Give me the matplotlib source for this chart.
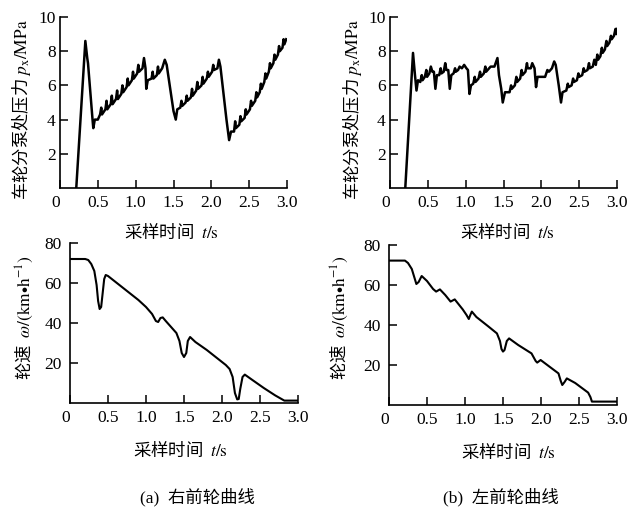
import numpy as np
from matplotlib import pyplot as plt

plt.rcParams['font.family'] = ['Liberation Serif', 'Noto Sans CJK SC']
plt.rcParams['mathtext.fontset'] = 'stix'
plt.rcParams['axes.unicode_minus'] = False

# (a) 右前轮 车轮分泵处压力
t_pa = [0.215, 0.335, 0.36, 0.37, 0.43, 0.44, 0.46, 0.50,
        0.53, 0.545, 0.555, 0.60, 0.615, 0.625, 0.67, 0.685, 0.695,
        0.74, 0.755, 0.765, 0.81, 0.825, 0.835, 0.88, 0.895, 0.905,
        0.95, 0.965, 0.975, 1.02, 1.035, 1.045, 1.09, 1.11, 1.13,
        1.14, 1.16, 1.21, 1.225, 1.235, 1.28, 1.295, 1.305, 1.35,
        1.385, 1.41, 1.50, 1.53, 1.55, 1.59, 1.605, 1.615,
        1.66, 1.675, 1.685, 1.73, 1.745, 1.755, 1.80, 1.815, 1.825,
        1.87, 1.885, 1.895, 1.94, 1.955, 1.965, 2.01, 2.025, 2.035,
        2.08, 2.10, 2.12, 2.20, 2.235, 2.26, 2.30, 2.315, 2.325,
        2.37, 2.385, 2.395, 2.44, 2.455, 2.465, 2.51, 2.525, 2.535,
        2.58, 2.595, 2.605, 2.64, 2.655, 2.665, 2.70, 2.715, 2.725,
        2.76, 2.775, 2.785, 2.82, 2.835, 2.845, 2.88, 2.895, 2.905,
        2.94, 2.955, 2.965, 2.99]
p_a = [0.0, 8.6, 7.6, 7.3, 4.0, 3.5, 4.0, 4.0,
       4.3, 4.7, 4.3, 4.6, 5.1, 4.6, 4.9, 5.4, 4.9,
       5.2, 5.7, 5.2, 5.5, 6.0, 5.6, 5.9, 6.4, 6.0,
       6.3, 6.8, 6.4, 6.7, 7.2, 6.8, 7.0, 7.6, 7.0,
       5.8, 6.3, 6.4, 6.8, 6.4, 6.6, 7.1, 6.7, 7.0,
       7.5, 7.2, 4.5, 4.0, 4.6, 4.7, 5.1, 4.8,
       5.0, 5.4, 5.1, 5.3, 5.8, 5.4, 5.7, 6.2, 5.8,
       6.0, 6.5, 6.1, 6.4, 6.8, 6.5, 6.8, 7.2, 6.9,
       7.0, 7.5, 7.1, 4.0, 2.8, 3.3, 3.3, 3.9, 3.5,
       3.7, 4.2, 3.9, 4.1, 4.6, 4.3, 4.6, 5.1, 4.8,
       5.1, 5.6, 5.3, 5.6, 6.1, 5.8, 6.2, 6.7, 6.4,
       6.8, 7.3, 7.0, 7.3, 7.8, 7.5, 7.8, 8.3, 8.0,
       8.2, 8.7, 8.4, 8.7]

# (b) 左前轮 车轮分泵处压力
t_pb = [0.202, 0.304, 0.33, 0.35, 0.37, 0.40, 0.42, 0.43, 0.46, 0.48,
        0.49, 0.52, 0.54, 0.56, 0.58, 0.60, 0.62, 0.65, 0.67, 0.68,
        0.71, 0.73, 0.745, 0.77, 0.79, 0.81, 0.84, 0.86, 0.87, 0.90,
        0.92, 0.95, 0.98, 1.01, 1.03, 1.05, 1.07, 1.10, 1.12, 1.13,
        1.17, 1.19, 1.20, 1.24, 1.26, 1.27, 1.31, 1.33, 1.38, 1.42,
        1.44, 1.47, 1.49, 1.52, 1.58, 1.60, 1.61, 1.65, 1.67, 1.68,
        1.72, 1.74, 1.75, 1.79, 1.81, 1.82, 1.86, 1.88, 1.91, 1.93,
        1.95, 2.05, 2.08, 2.10, 2.14, 2.17, 2.19, 2.23, 2.26, 2.28,
        2.33, 2.35, 2.36, 2.40, 2.42, 2.43, 2.47, 2.49, 2.50, 2.54,
        2.56, 2.57, 2.61, 2.63, 2.64, 2.68, 2.70, 2.72, 2.74, 2.75,
        2.78, 2.80, 2.81, 2.84, 2.86, 2.87, 2.90, 2.92, 2.93, 2.96,
        2.98, 2.99, 3.00]
p_b = [0.0, 7.9, 6.6, 5.7, 6.3, 6.2, 6.6, 6.3, 6.5, 6.9,
       6.5, 6.7, 7.1, 6.8, 6.8, 5.8, 6.6, 6.6, 7.0, 6.7,
       6.8, 7.3, 6.9, 6.9, 5.8, 6.6, 6.7, 7.0, 6.8, 6.9,
       7.1, 7.0, 7.2, 7.0, 6.9, 5.5, 6.0, 6.1, 6.5, 6.2,
       6.4, 6.8, 6.5, 6.7, 7.1, 6.8, 7.0, 7.1, 7.1, 7.6,
       6.6, 5.8, 5.0, 5.6, 5.6, 6.0, 5.8, 6.0, 6.5, 6.2,
       6.4, 6.9, 6.6, 6.8, 7.3, 7.0, 7.0, 7.3, 7.0, 5.9,
       6.5, 6.5, 6.9, 6.8, 7.0, 7.4, 7.2, 6.0, 5.0, 5.6,
       5.7, 6.1, 5.9, 6.0, 6.4, 6.2, 6.3, 6.7, 6.5, 6.6,
       7.0, 6.8, 6.9, 7.3, 7.0, 7.1, 7.5, 7.2, 7.8, 7.5,
       7.7, 8.2, 7.9, 8.1, 8.6, 8.3, 8.5, 8.9, 8.7, 8.9,
       9.3, 9.0, 9.3]

# (a) 右前轮 轮速
t_va = [0.00, 0.20, 0.24, 0.28, 0.32, 0.35, 0.37, 0.39, 0.41, 0.43,
        0.45, 0.47, 0.50, 0.60, 0.70, 0.80, 0.90, 1.00, 1.08, 1.13,
        1.16, 1.19, 1.22, 1.26, 1.33, 1.40, 1.44, 1.47, 1.50, 1.53,
        1.55, 1.58, 1.65, 1.80, 1.95, 2.05, 2.10, 2.14, 2.17, 2.20,
        2.22, 2.24, 2.27, 2.30, 2.40, 2.55, 2.70, 2.82, 3.00]
v_a = [72, 72, 71.5, 69.5, 66, 59, 51, 47, 48, 55,
       62, 64, 63.5, 60.5, 57.5, 54.5, 51.5, 48, 44.5, 41,
       40.5, 42.5, 42.8, 41, 38, 35, 31, 25, 23, 25,
       31, 33, 30.5, 26.5, 22, 19, 17, 13, 5, 1.8,
       2, 7, 13, 14.2, 11.5, 7.5, 3.8, 1.2, 1.2]

# (b) 左前轮 轮速
t_vb = [0.00, 0.21, 0.25, 0.30, 0.34, 0.36, 0.39, 0.43, 0.50, 0.58,
        0.62, 0.67, 0.74, 0.81, 0.865, 0.97, 1.02, 1.05, 1.07, 1.09,
        1.15, 1.30, 1.42, 1.46, 1.48, 1.50, 1.52, 1.55, 1.58, 1.70,
        1.875, 1.93, 1.95, 1.995, 2.10, 2.23, 2.26, 2.28, 2.31, 2.34,
        2.45, 2.62, 2.65, 2.67, 3.00]
v_b = [72.2, 72.2, 71, 68, 63, 60.5, 61.5, 64.5, 62, 58,
       56.7, 57.8, 55, 51.7, 52.8, 47.8, 45, 43, 45, 46.7,
       44, 39.5, 35.8, 32, 28, 26.7, 27.5, 32, 33.3, 30,
       25.8, 22, 21.2, 22.5, 19.5, 15.8, 12, 10, 11.5, 13.3,
       11, 6.2, 4, 1.7, 1.7]

xticks = [0, 0.5, 1.0, 1.5, 2.0, 2.5, 3.0]
xtick_labels = ['0', '0.5', '1.0', '1.5', '2.0', '2.5', '3.0']

fig = plt.figure(figsize=(6.42, 5.09), dpi=100)


def style_axes(ax, yticks, ylim, ypad):
    ax.set_xlim(0, 3.0)
    ax.set_ylim(*ylim)
    ax.spines['top'].set_visible(False)
    ax.spines['right'].set_visible(False)
    for s in ('left', 'bottom'):
        ax.spines[s].set_linewidth(1.2)
    ax.set_xticks(xticks)
    ax.set_xticklabels(xtick_labels)
    ax.get_xticklabels()[0].set_ha('right')
    ax.set_yticks(yticks)
    ax.tick_params(direction='in', length=6, width=1.1, labelsize=12.5)
    ax.tick_params(axis='x', pad=5)
    ax.tick_params(axis='y', pad=ypad)


def px(x, y):
    return x / 642, 1 - y / 509


# 上: 压力
ax1 = fig.add_axes([60 / 642, 1 - 188 / 509, 227 / 642, 171 / 509])
ax1.plot(t_pa, p_a, color='black', lw=1.8)
style_axes(ax1, [2, 4, 6, 8, 10], (0, 10), 3)

ax2 = fig.add_axes([390 / 642, 1 - 188 / 509, 227 / 642, 171 / 509])
ax2.plot(t_pb, p_b, color='black', lw=1.8)
style_axes(ax2, [2, 4, 6, 8, 10], (0, 10), 3)

# 下: 轮速
ax3 = fig.add_axes([70 / 642, 1 - 403 / 509, 228 / 642, 160 / 509])
ax3.plot(t_va, v_a, color='black', lw=1.5)
style_axes(ax3, [20, 40, 60, 80], (0, 80), 6)

ax4 = fig.add_axes([389 / 642, 1 - 405 / 509, 228 / 642, 160 / 509])
ax4.plot(t_vb, v_b, color='black', lw=1.5)
style_axes(ax4, [20, 40, 60, 80], (0, 80), 6)

# 混排文字: 汉字用 Noto CJK, 公式部分用 stix
cjk = dict(family='Noto Sans CJK SC', fontsize=12.5)
p_label = '车轮分泵处压力 $p_{\\mathrm{x}}/\\mathrm{MPa}$'
w_label = '轮速  $\\omega/(\\mathrm{km}{\\bullet}\\mathrm{h}^{-1})$'
t_label = '采样时间  $t/\\mathrm{s}$'

fig.text(*px(22, 110), p_label, rotation=90, ha='center', va='center', **cjk)
fig.text(*px(353, 110), p_label, rotation=90, ha='center', va='center', **cjk)
fig.text(*px(24, 318), w_label, rotation=90, ha='center', va='center', **cjk)
fig.text(*px(339, 318), w_label, rotation=90, ha='center', va='center', **cjk)

fig.text(*px(171, 232), t_label, ha='center', va='center', **cjk)
fig.text(*px(507, 232), t_label, ha='center', va='center', **cjk)
fig.text(*px(180, 450), t_label, ha='center', va='center', **cjk)
fig.text(*px(508, 452), t_label, ha='center', va='center', **cjk)

fig.text(*px(197, 497), '(a)  右前轮曲线', ha='center', va='center', fontsize=12.5)
fig.text(*px(501, 497), '(b)  左前轮曲线', ha='center', va='center', fontsize=12.5)

fig.savefig('out.png', dpi=100)
